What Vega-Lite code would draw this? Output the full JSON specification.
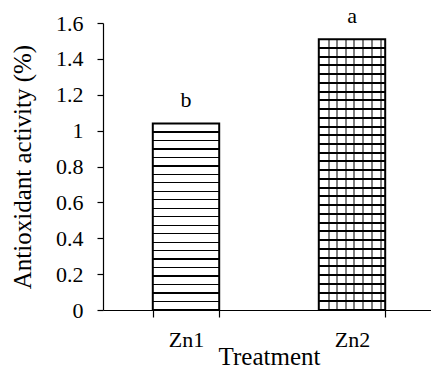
{
  "$schema": "https://vega.github.io/schema/vega-lite/v6.json",
  "autosize": "none",
  "width": 332,
  "height": 287,
  "padding": {"left": 103, "top": 23, "right": 0, "bottom": 57},
  "background": "white",
  "config": {
    "view": {"stroke": null},
    "font": "Liberation Serif",
    "axis": {
      "domainColor": "black",
      "tickColor": "black",
      "labelColor": "black",
      "titleColor": "black",
      "labelFont": "Liberation Serif",
      "titleFont": "Liberation Serif",
      "titleFontWeight": "normal",
      "grid": false,
      "domainWidth": 1.2,
      "tickWidth": 1.2
    }
  },
  "data": {
    "values": [
      {"Treatment": "Zn1", "value": 1.04, "letter": "b"},
      {"Treatment": "Zn2", "value": 1.51, "letter": "a"}
    ]
  },
  "encoding": {
    "x": {
      "field": "Treatment",
      "type": "nominal",
      "scale": {"paddingInner": 0.6, "paddingOuter": 0.3},
      "axis": {
        "title": "Treatment",
        "labelAngle": 0,
        "labelFont": "Liberation Serif",
        "labelFontSize": 22,
        "labelBaseline": "alphabetic",
        "labelPadding": 29,
        "tickSize": 7,
        "tickBand": "extent",
        "titleFont": "Liberation Serif",
        "titleFontSize": 25,
        "titleBaseline": "alphabetic",
        "titleY": 54
      }
    },
    "y": {
      "field": "value",
      "type": "quantitative",
      "scale": {"domain": [0, 1.6], "nice": false},
      "axis": {
        "title": "Antioxidant activity (%)",
        "values": [0, 0.2, 0.4, 0.6, 0.8, 1, 1.2, 1.4, 1.6],
        "format": ".1~f",
        "labelFont": "Liberation Serif",
        "labelFontSize": 22,
        "labelPadding": 14,
        "tickSize": 6,
        "titleFont": "Liberation Serif",
        "titleFontSize": 25,
        "titleBaseline": "alphabetic",
        "titleX": -73
      }
    }
  },
  "layer": [
    {
      "transform": [{"filter": "datum.Treatment === 'Zn1'"}],
      "mark": {
        "type": "bar",
        "stroke": "black",
        "strokeWidth": 2,
        "fill": {
          "gradient": "linear", "x1": 0, "y1": 0, "x2": 0, "y2": 1,
          "stops": [
            {"offset": 0, "color": "white"},
            {"offset": 0.0420, "color": "white"}, {"offset": 0.0420, "color": "black"}, {"offset": 0.0490, "color": "black"}, {"offset": 0.0490, "color": "white"},
            {"offset": 0.0874, "color": "white"}, {"offset": 0.0874, "color": "black"}, {"offset": 0.0944, "color": "black"}, {"offset": 0.0944, "color": "white"},
            {"offset": 0.1329, "color": "white"}, {"offset": 0.1329, "color": "black"}, {"offset": 0.1399, "color": "black"}, {"offset": 0.1399, "color": "white"},
            {"offset": 0.1783, "color": "white"}, {"offset": 0.1783, "color": "black"}, {"offset": 0.1853, "color": "black"}, {"offset": 0.1853, "color": "white"},
            {"offset": 0.2238, "color": "white"}, {"offset": 0.2238, "color": "black"}, {"offset": 0.2308, "color": "black"}, {"offset": 0.2308, "color": "white"},
            {"offset": 0.2692, "color": "white"}, {"offset": 0.2692, "color": "black"}, {"offset": 0.2762, "color": "black"}, {"offset": 0.2762, "color": "white"},
            {"offset": 0.3147, "color": "white"}, {"offset": 0.3147, "color": "black"}, {"offset": 0.3217, "color": "black"}, {"offset": 0.3217, "color": "white"},
            {"offset": 0.3601, "color": "white"}, {"offset": 0.3601, "color": "black"}, {"offset": 0.3671, "color": "black"}, {"offset": 0.3671, "color": "white"},
            {"offset": 0.4056, "color": "white"}, {"offset": 0.4056, "color": "black"}, {"offset": 0.4126, "color": "black"}, {"offset": 0.4126, "color": "white"},
            {"offset": 0.4510, "color": "white"}, {"offset": 0.4510, "color": "black"}, {"offset": 0.4580, "color": "black"}, {"offset": 0.4580, "color": "white"},
            {"offset": 0.4965, "color": "white"}, {"offset": 0.4965, "color": "black"}, {"offset": 0.5035, "color": "black"}, {"offset": 0.5035, "color": "white"},
            {"offset": 0.5420, "color": "white"}, {"offset": 0.5420, "color": "black"}, {"offset": 0.5490, "color": "black"}, {"offset": 0.5490, "color": "white"},
            {"offset": 0.5874, "color": "white"}, {"offset": 0.5874, "color": "black"}, {"offset": 0.5944, "color": "black"}, {"offset": 0.5944, "color": "white"},
            {"offset": 0.6329, "color": "white"}, {"offset": 0.6329, "color": "black"}, {"offset": 0.6399, "color": "black"}, {"offset": 0.6399, "color": "white"},
            {"offset": 0.6783, "color": "white"}, {"offset": 0.6783, "color": "black"}, {"offset": 0.6853, "color": "black"}, {"offset": 0.6853, "color": "white"},
            {"offset": 0.7238, "color": "white"}, {"offset": 0.7238, "color": "black"}, {"offset": 0.7308, "color": "black"}, {"offset": 0.7308, "color": "white"},
            {"offset": 0.7692, "color": "white"}, {"offset": 0.7692, "color": "black"}, {"offset": 0.7762, "color": "black"}, {"offset": 0.7762, "color": "white"},
            {"offset": 0.8147, "color": "white"}, {"offset": 0.8147, "color": "black"}, {"offset": 0.8217, "color": "black"}, {"offset": 0.8217, "color": "white"},
            {"offset": 0.8601, "color": "white"}, {"offset": 0.8601, "color": "black"}, {"offset": 0.8671, "color": "black"}, {"offset": 0.8671, "color": "white"},
            {"offset": 0.9056, "color": "white"}, {"offset": 0.9056, "color": "black"}, {"offset": 0.9126, "color": "black"}, {"offset": 0.9126, "color": "white"},
            {"offset": 0.9510, "color": "white"}, {"offset": 0.9510, "color": "black"}, {"offset": 0.9580, "color": "black"}, {"offset": 0.9580, "color": "white"},
            {"offset": 1, "color": "white"}
          ]
        }
      }
    },
    {
      "transform": [{"filter": "datum.Treatment === 'Zn2'"}],
      "mark": {
        "type": "bar",
        "stroke": "black",
        "strokeWidth": 2,
        "fill": {
          "gradient": "linear", "x1": 0, "y1": 0, "x2": 0, "y2": 1,
          "stops": [
            {"offset": 0, "color": "white"},
            {"offset": 0.0286, "color": "white"}, {"offset": 0.0286, "color": "black"}, {"offset": 0.0360, "color": "black"}, {"offset": 0.0360, "color": "white"},
            {"offset": 0.0608, "color": "white"}, {"offset": 0.0608, "color": "black"}, {"offset": 0.0682, "color": "black"}, {"offset": 0.0682, "color": "white"},
            {"offset": 0.0931, "color": "white"}, {"offset": 0.0931, "color": "black"}, {"offset": 0.1005, "color": "black"}, {"offset": 0.1005, "color": "white"},
            {"offset": 0.1253, "color": "white"}, {"offset": 0.1253, "color": "black"}, {"offset": 0.1327, "color": "black"}, {"offset": 0.1327, "color": "white"},
            {"offset": 0.1576, "color": "white"}, {"offset": 0.1576, "color": "black"}, {"offset": 0.1650, "color": "black"}, {"offset": 0.1650, "color": "white"},
            {"offset": 0.1899, "color": "white"}, {"offset": 0.1899, "color": "black"}, {"offset": 0.1973, "color": "black"}, {"offset": 0.1973, "color": "white"},
            {"offset": 0.2221, "color": "white"}, {"offset": 0.2221, "color": "black"}, {"offset": 0.2295, "color": "black"}, {"offset": 0.2295, "color": "white"},
            {"offset": 0.2544, "color": "white"}, {"offset": 0.2544, "color": "black"}, {"offset": 0.2618, "color": "black"}, {"offset": 0.2618, "color": "white"},
            {"offset": 0.2866, "color": "white"}, {"offset": 0.2866, "color": "black"}, {"offset": 0.2940, "color": "black"}, {"offset": 0.2940, "color": "white"},
            {"offset": 0.3189, "color": "white"}, {"offset": 0.3189, "color": "black"}, {"offset": 0.3263, "color": "black"}, {"offset": 0.3263, "color": "white"},
            {"offset": 0.3511, "color": "white"}, {"offset": 0.3511, "color": "black"}, {"offset": 0.3585, "color": "black"}, {"offset": 0.3585, "color": "white"},
            {"offset": 0.3834, "color": "white"}, {"offset": 0.3834, "color": "black"}, {"offset": 0.3908, "color": "black"}, {"offset": 0.3908, "color": "white"},
            {"offset": 0.4157, "color": "white"}, {"offset": 0.4157, "color": "black"}, {"offset": 0.4231, "color": "black"}, {"offset": 0.4231, "color": "white"},
            {"offset": 0.4479, "color": "white"}, {"offset": 0.4479, "color": "black"}, {"offset": 0.4553, "color": "black"}, {"offset": 0.4553, "color": "white"},
            {"offset": 0.4802, "color": "white"}, {"offset": 0.4802, "color": "black"}, {"offset": 0.4876, "color": "black"}, {"offset": 0.4876, "color": "white"},
            {"offset": 0.5124, "color": "white"}, {"offset": 0.5124, "color": "black"}, {"offset": 0.5198, "color": "black"}, {"offset": 0.5198, "color": "white"},
            {"offset": 0.5447, "color": "white"}, {"offset": 0.5447, "color": "black"}, {"offset": 0.5521, "color": "black"}, {"offset": 0.5521, "color": "white"},
            {"offset": 0.5770, "color": "white"}, {"offset": 0.5770, "color": "black"}, {"offset": 0.5844, "color": "black"}, {"offset": 0.5844, "color": "white"},
            {"offset": 0.6092, "color": "white"}, {"offset": 0.6092, "color": "black"}, {"offset": 0.6166, "color": "black"}, {"offset": 0.6166, "color": "white"},
            {"offset": 0.6415, "color": "white"}, {"offset": 0.6415, "color": "black"}, {"offset": 0.6489, "color": "black"}, {"offset": 0.6489, "color": "white"},
            {"offset": 0.6737, "color": "white"}, {"offset": 0.6737, "color": "black"}, {"offset": 0.6811, "color": "black"}, {"offset": 0.6811, "color": "white"},
            {"offset": 0.7060, "color": "white"}, {"offset": 0.7060, "color": "black"}, {"offset": 0.7134, "color": "black"}, {"offset": 0.7134, "color": "white"},
            {"offset": 0.7382, "color": "white"}, {"offset": 0.7382, "color": "black"}, {"offset": 0.7456, "color": "black"}, {"offset": 0.7456, "color": "white"},
            {"offset": 0.7705, "color": "white"}, {"offset": 0.7705, "color": "black"}, {"offset": 0.7779, "color": "black"}, {"offset": 0.7779, "color": "white"},
            {"offset": 0.8028, "color": "white"}, {"offset": 0.8028, "color": "black"}, {"offset": 0.8102, "color": "black"}, {"offset": 0.8102, "color": "white"},
            {"offset": 0.8350, "color": "white"}, {"offset": 0.8350, "color": "black"}, {"offset": 0.8424, "color": "black"}, {"offset": 0.8424, "color": "white"},
            {"offset": 0.8673, "color": "white"}, {"offset": 0.8673, "color": "black"}, {"offset": 0.8747, "color": "black"}, {"offset": 0.8747, "color": "white"},
            {"offset": 0.8995, "color": "white"}, {"offset": 0.8995, "color": "black"}, {"offset": 0.9069, "color": "black"}, {"offset": 0.9069, "color": "white"},
            {"offset": 0.9318, "color": "white"}, {"offset": 0.9318, "color": "black"}, {"offset": 0.9392, "color": "black"}, {"offset": 0.9392, "color": "white"},
            {"offset": 0.9640, "color": "white"}, {"offset": 0.9640, "color": "black"}, {"offset": 0.9714, "color": "black"}, {"offset": 0.9714, "color": "white"},
            {"offset": 1, "color": "white"}
          ]
        }
      }
    },
    {
      "transform": [{"filter": "datum.Treatment === 'Zn2'"}],
      "mark": {
        "type": "bar",
        "strokeWidth": 0,
        "fill": {
          "gradient": "linear", "x1": 0, "y1": 0, "x2": 1, "y2": 0,
          "stops": [
            {"offset": 0, "color": "rgba(0,0,0,0)"},
            {"offset": 0.137, "color": "rgba(0,0,0,0)"}, {"offset": 0.137, "color": "rgba(0,0,0,0.5)"}, {"offset": 0.167, "color": "rgba(0,0,0,0.5)"}, {"offset": 0.167, "color": "rgba(0,0,0,0)"},
            {"offset": 0.253, "color": "rgba(0,0,0,0)"}, {"offset": 0.253, "color": "rgba(0,0,0,0.5)"}, {"offset": 0.283, "color": "rgba(0,0,0,0.5)"}, {"offset": 0.283, "color": "rgba(0,0,0,0)"},
            {"offset": 0.394, "color": "rgba(0,0,0,0)"}, {"offset": 0.394, "color": "rgba(0,0,0,0.5)"}, {"offset": 0.424, "color": "rgba(0,0,0,0.5)"}, {"offset": 0.424, "color": "rgba(0,0,0,0)"},
            {"offset": 0.521, "color": "rgba(0,0,0,0)"}, {"offset": 0.521, "color": "rgba(0,0,0,0.5)"}, {"offset": 0.551, "color": "rgba(0,0,0,0.5)"}, {"offset": 0.551, "color": "rgba(0,0,0,0)"},
            {"offset": 0.658, "color": "rgba(0,0,0,0)"}, {"offset": 0.658, "color": "rgba(0,0,0,0.5)"}, {"offset": 0.688, "color": "rgba(0,0,0,0.5)"}, {"offset": 0.688, "color": "rgba(0,0,0,0)"},
            {"offset": 0.783, "color": "rgba(0,0,0,0)"}, {"offset": 0.783, "color": "rgba(0,0,0,0.5)"}, {"offset": 0.813, "color": "rgba(0,0,0,0.5)"}, {"offset": 0.813, "color": "rgba(0,0,0,0)"},
            {"offset": 0.924, "color": "rgba(0,0,0,0)"}, {"offset": 0.924, "color": "rgba(0,0,0,0.5)"}, {"offset": 0.954, "color": "rgba(0,0,0,0.5)"}, {"offset": 0.954, "color": "rgba(0,0,0,0)"},
            {"offset": 1, "color": "rgba(0,0,0,0)"}
          ]
        }
      }
    },
    {
      "mark": {
        "type": "text",
        "font": "Liberation Serif",
        "fontSize": 22,
        "baseline": "alphabetic",
        "dy": -16.5,
        "color": "black"
      },
      "encoding": {"text": {"field": "letter"}}
    }
  ]
}
